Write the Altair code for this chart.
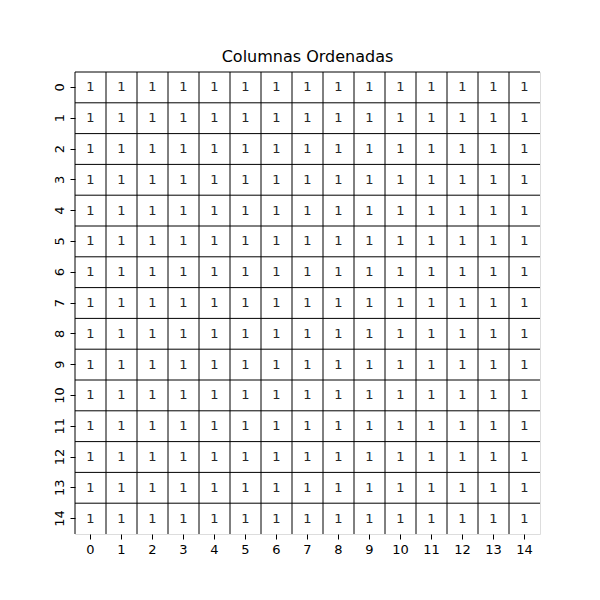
import altair as alt
import pandas as pd

row_labels = [0, 1, 2, 3, 4, 5, 6, 7, 8, 9, 10, 11, 12, 13, 14]
col_labels = [0, 1, 2, 3, 4, 5, 6, 7, 8, 9, 10, 11, 12, 13, 14]
values = [
    [1, 1, 1, 1, 1, 1, 1, 1, 1, 1, 1, 1, 1, 1, 1],
    [1, 1, 1, 1, 1, 1, 1, 1, 1, 1, 1, 1, 1, 1, 1],
    [1, 1, 1, 1, 1, 1, 1, 1, 1, 1, 1, 1, 1, 1, 1],
    [1, 1, 1, 1, 1, 1, 1, 1, 1, 1, 1, 1, 1, 1, 1],
    [1, 1, 1, 1, 1, 1, 1, 1, 1, 1, 1, 1, 1, 1, 1],
    [1, 1, 1, 1, 1, 1, 1, 1, 1, 1, 1, 1, 1, 1, 1],
    [1, 1, 1, 1, 1, 1, 1, 1, 1, 1, 1, 1, 1, 1, 1],
    [1, 1, 1, 1, 1, 1, 1, 1, 1, 1, 1, 1, 1, 1, 1],
    [1, 1, 1, 1, 1, 1, 1, 1, 1, 1, 1, 1, 1, 1, 1],
    [1, 1, 1, 1, 1, 1, 1, 1, 1, 1, 1, 1, 1, 1, 1],
    [1, 1, 1, 1, 1, 1, 1, 1, 1, 1, 1, 1, 1, 1, 1],
    [1, 1, 1, 1, 1, 1, 1, 1, 1, 1, 1, 1, 1, 1, 1],
    [1, 1, 1, 1, 1, 1, 1, 1, 1, 1, 1, 1, 1, 1, 1],
    [1, 1, 1, 1, 1, 1, 1, 1, 1, 1, 1, 1, 1, 1, 1],
    [1, 1, 1, 1, 1, 1, 1, 1, 1, 1, 1, 1, 1, 1, 1],
]
title = "Columnas Ordenadas"

records = []
for i, r in enumerate(row_labels):
    for j, c in enumerate(col_labels):
        records.append({"row": r, "col": c, "value": values[i][j]})
df = pd.DataFrame(records)
cols_df = pd.DataFrame({"col": col_labels})
rows_df = pd.DataFrame({"row": row_labels})

W, H = 465, 462
FONT = "DejaVu Sans"

xscale = alt.Scale(domain=col_labels, paddingInner=0, paddingOuter=0)
yscale = alt.Scale(domain=row_labels, paddingInner=0, paddingOuter=0)

xaxis = alt.Axis(title=None, labelAngle=0, domain=False, grid=False,
                 tickSize=5, tickColor="black", tickWidth=1, labelPadding=4,
                 labelFont=FONT, labelFontSize=13, labelColor="black")
yaxis = alt.Axis(title=None, labelAngle=270, domain=False, grid=False,
                 tickSize=5, tickColor="black", tickWidth=1, labelPadding=4,
                 labelFont=FONT, labelFontSize=13, labelColor="black",
                 labelAlign="center", labelBaseline="bottom")

cells = alt.Chart(df).mark_rect(color="white").encode(
    x=alt.X("col:O", scale=xscale, axis=xaxis),
    y=alt.Y("row:O", scale=yscale, axis=yaxis),
)

texts = alt.Chart(df).mark_text(font=FONT, fontSize=13, color="#262626").encode(
    x=alt.X("col:O", scale=xscale),
    y=alt.Y("row:O", scale=yscale),
    text="value:Q",
)

vlines = alt.Chart(cols_df).mark_rule(color="black", strokeWidth=1).encode(
    x=alt.X("col:O", scale=xscale, bandPosition=0),
    y=alt.value(0),
    y2=alt.value(H),
)

hlines = alt.Chart(rows_df).mark_rule(color="black", strokeWidth=1).encode(
    y=alt.Y("row:O", scale=yscale, bandPosition=0),
    x=alt.value(0),
    x2=alt.value(W),
)

chart = alt.layer(cells, texts, vlines, hlines).properties(
    width=W, height=H,
    title=alt.TitleParams(title, font=FONT, fontSize=16, fontWeight="normal",
                          color="black", offset=7),
    autosize=alt.AutoSizeParams(type="none"),
    padding={"left": 75, "top": 72, "right": 60, "bottom": 66},
).configure_view(stroke=None).configure(background="white")

chart.save("out.html", embed_options={"renderer": "svg", "actions": False})
